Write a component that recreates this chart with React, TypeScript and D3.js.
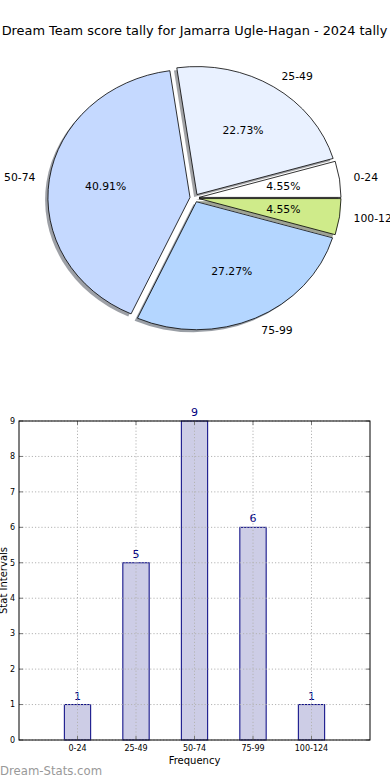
import React, { useEffect, useRef } from 'react';
import * as d3 from 'd3';

const title = 'Dream Team score tally for Jamarra Ugle-Hagan - 2024 tally';
const categories = ['0-24', '25-49', '50-74', '75-99', '100-124'];
const counts = [1, 5, 9, 6, 1];
const pieColors = ['#ffffff', '#e9f1ff', '#c5d9ff', '#b4d6ff', '#cfeb8a'];
const yTicks = [0, 1, 2, 3, 4, 5, 6, 7, 8, 9];

const W = 390;
const H = 780;
const font = '"DejaVu Sans", sans-serif';

export default function App() {
  const svgRef = useRef<SVGSVGElement>(null);

  useEffect(() => {
    if (!svgRef.current) return;
    const svg = d3.select(svgRef.current);
    svg.selectAll('*').remove();

    svg.append('rect').attr('width', W).attr('height', H).attr('fill', '#ffffff');

    // title
    svg.append('text')
      .attr('x', 194.5).attr('y', 35)
      .attr('text-anchor', 'middle')
      .style('font-family', font).style('font-size', '12.9px')
      .attr('fill', '#000')
      .text(title);

    // ---------- pie (stretched like a non-equal-aspect matplotlib pie) ----------
    const cx = 194.5, cy = 198, rx = 142, ry = 128;
    const explode = 0.032;
    const total = d3.sum(counts);

    const pie = d3.pie<number>()
      .sort(null)
      .startAngle(Math.PI / 2)
      .endAngle(Math.PI / 2 - 2 * Math.PI);
    const slices = pie(counts);
    const unitArc = d3.arc<d3.PieArcDatum<number>>().innerRadius(0).outerRadius(1);

    const mid = (d: d3.PieArcDatum<number>) => (d.startAngle + d.endAngle) / 2;
    const at = (d: d3.PieArcDatum<number>, r: number) => {
      const m = mid(d);
      return [cx + rx * r * Math.sin(m), cy - ry * r * Math.cos(m)];
    };

    const pg = svg.append('g');

    // shadows first, behind all wedges
    slices.forEach((d, i) => {
      const [ox, oy] = at(d, explode);
      const c = d3.rgb(pieColors[i]);
      pg.append('path')
        .attr('d', unitArc(d) || '')
        .attr('transform', `translate(${ox - 0.02 * rx},${oy + 0.02 * ry}) scale(${rx},${ry})`)
        .attr('fill', d3.rgb(c.r * 0.3, c.g * 0.3, c.b * 0.3).toString())
        .attr('fill-opacity', 0.5)
        .attr('stroke', 'none');
    });

    slices.forEach((d, i) => {
      const [ox, oy] = at(d, explode);
      pg.append('path')
        .attr('d', unitArc(d) || '')
        .attr('transform', `translate(${ox},${oy}) scale(${rx},${ry})`)
        .attr('fill', pieColors[i])
        .attr('stroke', '#000')
        .attr('stroke-width', 0.8)
        .attr('vector-effect', 'non-scaling-stroke');
    });

    slices.forEach((d, i) => {
      const [lx, ly] = at(d, explode + 1.1);
      const m = mid(d);
      pg.append('text')
        .attr('x', lx).attr('y', ly)
        .attr('dy', '0.35em')
        .attr('text-anchor', Math.sin(m) > 0 ? 'start' : 'end')
        .style('font-family', font).style('font-size', '10.8px')
        .attr('fill', '#000')
        .text(categories[i]);

      const [px, py] = at(d, explode + 0.6);
      pg.append('text')
        .attr('x', px).attr('y', py)
        .attr('dy', '0.35em')
        .attr('text-anchor', 'middle')
        .style('font-family', font).style('font-size', '10.8px')
        .attr('fill', '#000')
        .text(d3.format('.2f')((counts[i] / total) * 100) + '%');
    });

    // ---------- bar chart ----------
    const left = 19, right = 370, top = 421, bottom = 740;
    const x = d3.scaleLinear().domain([-1, categories.length]).range([left, right]);
    const y = d3.scaleLinear().domain([0, 9]).range([bottom, top]);
    const barW = x(0.45) - x(0);

    const bg = svg.append('g');

    categories.forEach((c, i) => {
      bg.append('rect')
        .attr('x', x(i) - barW / 2)
        .attr('y', y(counts[i]))
        .attr('width', barW)
        .attr('height', y(0) - y(counts[i]))
        .attr('fill', '#cdcde6')
        .attr('stroke', '#000080')
        .attr('stroke-width', 1);

      bg.append('text')
        .attr('x', x(i))
        .attr('y', y(counts[i]) - 5)
        .attr('text-anchor', 'middle')
        .style('font-family', font).style('font-size', '11px')
        .attr('fill', '#000080')
        .text(counts[i]);
    });

    // grid (drawn above bars)
    const grid = bg.append('g')
      .attr('stroke', '#b4b4b4')
      .attr('stroke-width', 1)
      .attr('stroke-dasharray', '1.2,2');
    categories.forEach((c, i) => {
      grid.append('line')
        .attr('x1', x(i)).attr('x2', x(i))
        .attr('y1', top).attr('y2', bottom);
    });
    yTicks.forEach((t) => {
      grid.append('line')
        .attr('x1', left).attr('x2', right)
        .attr('y1', y(t)).attr('y2', y(t));
    });

    // ticks inward on all sides
    const ticks = bg.append('g').attr('stroke', '#777').attr('stroke-width', 1);
    yTicks.forEach((t) => {
      ticks.append('line').attr('x1', left).attr('x2', left + 4).attr('y1', y(t)).attr('y2', y(t));
      ticks.append('line').attr('x1', right - 4).attr('x2', right).attr('y1', y(t)).attr('y2', y(t));
    });
    categories.forEach((c, i) => {
      ticks.append('line').attr('x1', x(i)).attr('x2', x(i)).attr('y1', bottom).attr('y2', bottom - 4);
      ticks.append('line').attr('x1', x(i)).attr('x2', x(i)).attr('y1', top).attr('y2', top + 4);
    });

    // frame
    bg.append('rect')
      .attr('x', left).attr('y', top)
      .attr('width', right - left).attr('height', bottom - top)
      .attr('fill', 'none').attr('stroke', '#000').attr('stroke-width', 1);

    yTicks.forEach((t) => {
      bg.append('text')
        .attr('x', left - 4).attr('y', y(t))
        .attr('dy', '0.35em')
        .attr('text-anchor', 'end')
        .style('font-family', font).style('font-size', '8px')
        .attr('fill', '#000')
        .text(t);
    });
    categories.forEach((c, i) => {
      bg.append('text')
        .attr('x', x(i)).attr('y', bottom + 11)
        .attr('text-anchor', 'middle')
        .style('font-family', font).style('font-size', '8px')
        .attr('fill', '#000')
        .text(c);
    });

    bg.append('text')
      .attr('x', (left + right) / 2).attr('y', 764)
      .attr('text-anchor', 'middle')
      .style('font-family', font).style('font-size', '10px')
      .attr('fill', '#000')
      .text('Frequency');

    bg.append('text')
      .attr('transform', `translate(7,${(top + bottom) / 2}) rotate(-90)`)
      .attr('text-anchor', 'middle')
      .style('font-family', font).style('font-size', '10px')
      .attr('fill', '#000')
      .text('Stat Intervals');

    // watermark
    svg.append('text')
      .attr('x', 0).attr('y', 775)
      .style('font-family', font).style('font-size', '11.7px')
      .attr('fill', '#999999')
      .text('Dream-Stats.com');
  }, []);

  return (
    <svg
      ref={svgRef}
      width={W}
      height={H}
      style={{ position: 'absolute', left: 0, top: 0 }}
    />
  );
}
